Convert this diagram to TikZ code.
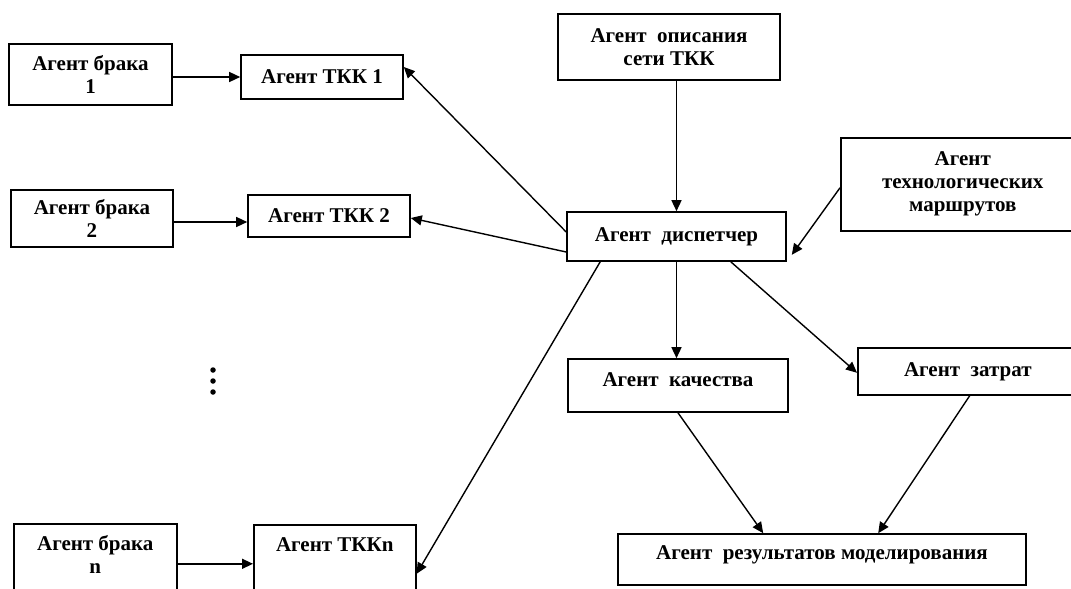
\documentclass[tikz,border=0pt]{standalone}
\usepackage{fontspec}
\setmainfont{Liberation Serif}
\usetikzlibrary{arrows.meta,calc}
\tikzset{
  box/.style={draw, line width=1.6pt, rectangle, inner sep=0pt, align=center,
    font=\fontsize{21}{23}\selectfont\bfseries},
  lbl/.style={inner sep=0pt, align=center, font=\fontsize{21}{23}\selectfont\bfseries},
  arr/.style={line width=1.4pt, -{Triangle[length=11pt,width=10pt]}},
  dotmark/.style={circle, fill=black, inner sep=0pt, minimum size=5.5pt},
}
\begin{document}
\begin{tikzpicture}[x=1pt,y=-1pt]
\useasboundingbox (0,0) rectangle (1071,589);
\fill[white] (0,0) rectangle (1071,589);
\clip (0,0) rectangle (1071,589);

% left column
\node[box, minimum width=163, minimum height=61] (b1) at (90.5,74.5) {Агент брака\\1};
\node[box, minimum width=162, minimum height=44] (t1) at (322,77) {Агент ТКК 1};
\node[box, minimum width=162, minimum height=57] (b2) at (92,218.5) {Агент брака\\2};
\node[box, minimum width=162, minimum height=42] (t2) at (329,216) {Агент ТКК 2};
\node[box, minimum width=163, minimum height=80, anchor=north west] (bn) at (13,523) {};
\node[lbl] (bnt) at ($(bn.north)+(0,31)$) {Агент брака\\n};
\node[box, minimum width=162, minimum height=80, anchor=north west] (tn) at (253,524) {};
\node[lbl] (tnt) at ($(tn.north)+(0,21)$) {Агент ТККn};

% dots
\node[dotmark] (d1) at (213,370) {};
\node[dotmark] (d2) at (213,381) {};
\node[dotmark] (d3) at (213,392) {};

% right part
\node[box, minimum width=222, minimum height=66] (opis) at (669,47) {Агент~~описания\\сети ТКК};
\node[box, minimum width=244, minimum height=93, anchor=north west] (tech) at (840,137) {Агент\\технологических\\маршрутов};
\node[box, minimum width=219, minimum height=49] (disp) at (676.5,236.5) {Агент~~диспетчер};
\node[box, minimum width=220, minimum height=53] (qual) at (678,385.5) {};
\node[lbl] (qualt) at ($(qual.north)+(0,21)$) {Агент~~качества};
\node[box, minimum width=220, minimum height=47, anchor=north west] (cost) at (857,347) {Агент~~затрат};
\node[box, minimum width=408, minimum height=51] (res) at (822,559.5) {};
\node[lbl] (rest) at ($(res.center)+(0,-5)$) {Агент~~результатов моделирования};

% connectors
\draw[arr] (b1.east |- t1.west) -- (t1.west);
\draw[arr] ($(b2.east)+(0,3.5)$) -- ($(b2.east -| t2.west)+(0,3.5)$);
\draw[arr] (bn.east) -- (bn.east -| tn.west);

\draw[arr] ($(disp.west)+(0,-4.5)$) -- ($(t1.east)+(0,-10)$);
\draw[arr] ($(disp.west)+(0,15.5)$) -- ($(t2.east)+(0,2)$);
\draw[arr] ($(disp.south west)+(34,0)$) -- ($(tn.east)+(0,9)$);

\draw[arr] (disp.north |- opis.south) -- (disp.north);
\draw[arr] ($(tech.west)+(0,3.5)$) -- ($(disp.south east)+(5,-7)$);
\draw[arr] (disp.south) -- (disp.south |- qual.north);
\draw[arr] ($(disp.south east)+(-56,0)$) -- ($(cost.west)+(0,1.5)$);

\draw[arr] (qual.south) -- ($(res.north west)+(146,0)$);
\draw[arr] ($(cost.south)+(2,0)$) -- ($(res.north west)+(261,0)$);
\end{tikzpicture}
\end{document}
